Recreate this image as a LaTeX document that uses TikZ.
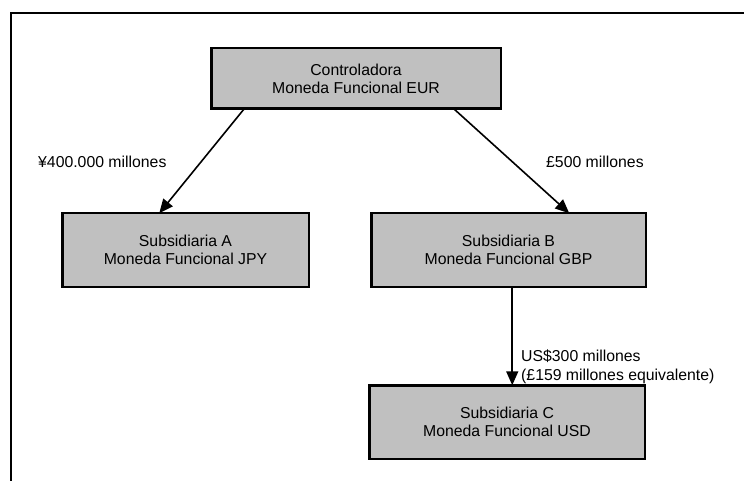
\documentclass[tikz,border=0pt]{standalone}
\usepackage{fontspec}
\setmainfont{Liberation Sans}
\usetikzlibrary{arrows.meta}
\definecolor{boxgray}{HTML}{C0C0C0}
\begin{document}
\begin{tikzpicture}[x=1pt,y=-1pt,
  entity/.style={draw=black, fill=boxgray, line width=2.5pt, inner sep=0pt, outer sep=0pt,
    align=center, font=\fontsize{15.8}{18}\selectfont},
  link/.style={line width=1.6pt, -{Triangle[length=14pt,width=12pt]}},
  lbl/.style={font=\fontsize{15.8}{19}\selectfont, inner sep=0pt}]
\useasboundingbox (0,0) rectangle (744,481);
\fill[white] (0,0) rectangle (744,481);
\draw[line width=2pt] (11,481) -- (11,13) -- (744,13);

\node[entity, minimum width=289.5pt, minimum height=60.5pt] (ctrl) at (356,78.5)
  {Controladora\\Moneda Funcional EUR};
\node[entity, minimum width=246.5pt, minimum height=73.5pt] (subA) at (185.5,250)
  {Subsidiaria A\\Moneda Funcional JPY};
\node[entity, minimum width=274.5pt, minimum height=73.5pt] (subB) at (508.5,250)
  {Subsidiaria B\\Moneda Funcional GBP};
\node[entity, minimum width=275.5pt, minimum height=73.5pt] (subC) at (507,422)
  {Subsidiaria C\\Moneda Funcional USD};

\draw[link] ([xshift=33pt]ctrl.south west) -- ([xshift=97pt]subA.north west);
\draw[link] ([xshift=-47pt]ctrl.south east) -- ([xshift=198pt]subB.north west);
\draw[link] ([xshift=141pt]subB.south west) -- ([xshift=143pt]subC.north west);

\node[lbl, anchor=west] (lblA) at (38,162) {¥400.000 millones};
\node[lbl, anchor=west] (lblB) at (546,162) {£500 millones};
\node[lbl, anchor=west, align=left] (lblC) at (521,366.5) {US\$300 millones\\(£159 millones equivalente)};
\end{tikzpicture}
\end{document}
